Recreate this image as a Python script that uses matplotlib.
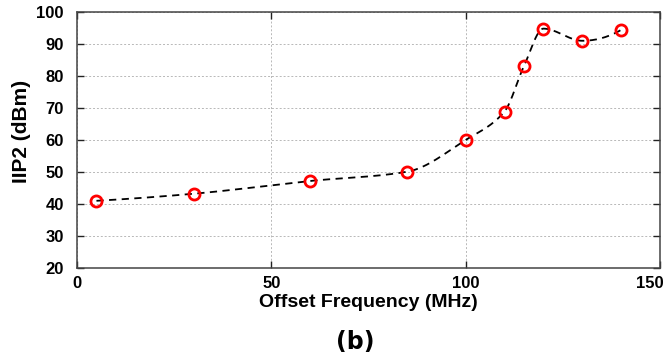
import numpy as np
import matplotlib
matplotlib.use("Agg")
import matplotlib.pyplot as plt
from matplotlib import font_manager
from matplotlib.transforms import ScaledTranslation

# Data
freq_mhz = [5, 30, 60, 85, 100, 110, 115, 120, 130, 140]
iip2_dbm = [41.0, 43.2, 47.2, 50.1, 60.0, 68.9, 83.1, 94.8, 91.0, 94.4]
x_ticks = [0, 50, 100, 150]
y_ticks = [20, 30, 40, 50, 60, 70, 80, 90, 100]

names = {f.name for f in font_manager.fontManager.ttflist}
fam = ["Liberation Sans Narrow", "Liberation Sans", "DejaVu Sans"]
fam = [f for f in fam if f in names] + ["DejaVu Sans"]
plt.rcParams['font.family'] = fam
plt.rcParams['font.weight'] = 'bold'


def pchip(x, y, xn):
    x = np.asarray(x, float); y = np.asarray(y, float)
    h = np.diff(x); d = np.diff(y) / h
    n = len(x); m = np.zeros(n)
    for k in range(1, n - 1):
        if d[k - 1] * d[k] > 0:
            w1 = 2 * h[k] + h[k - 1]; w2 = h[k] + 2 * h[k - 1]
            m[k] = (w1 + w2) / (w1 / d[k - 1] + w2 / d[k])
    def end(h0, h1, d0, d1):
        v = ((2 * h0 + h1) * d0 - h0 * d1) / (h0 + h1)
        if np.sign(v) != np.sign(d0):
            v = 0
        elif np.sign(d0) != np.sign(d1) and abs(v) > abs(3 * d0):
            v = 3 * d0
        return v
    m[0] = end(h[0], h[1], d[0], d[1])
    m[-1] = end(h[-1], h[-2], d[-1], d[-2])
    idx = np.clip(np.searchsorted(x, xn) - 1, 0, n - 2)
    t = (xn - x[idx]) / h[idx]
    h00 = 2 * t**3 - 3 * t**2 + 1; h10 = t**3 - 2 * t**2 + t
    h01 = -2 * t**3 + 3 * t**2; h11 = t**3 - t**2
    return h00 * y[idx] + h10 * h[idx] * m[idx] + h01 * y[idx + 1] + h11 * h[idx] * m[idx + 1]


fig = plt.figure(figsize=(6.68, 3.62), dpi=100)
ax = fig.add_axes([0.1153, 0.2597, 0.8727, 0.7072])

xs = np.linspace(freq_mhz[0], freq_mhz[-1], 600)
ax.plot(xs, pchip(freq_mhz, iip2_dbm, xs), color='black', linestyle=(0, (4, 3)), lw=1.3, zorder=3)
ax.plot(freq_mhz, iip2_dbm, linestyle='none', marker='o', ms=8, mfc='none',
        mec='#ff0000', mew=2, zorder=4)

ax.set_xlim(0, 150)
ax.set_ylim(20, 100)
ax.set_xticks(x_ticks)
ax.set_yticks(y_ticks)
ax.grid(True, color='#b8b8b8', linestyle=(0, (2, 2)), lw=0.7)
ax.tick_params(direction='in', top=True, right=True, length=5, width=1,
               labelsize=12, color='#222222')
ax.tick_params(axis='x', pad=6)
ax.tick_params(axis='y', pad=9.5)
for s in ax.spines.values():
    s.set_color('#444444'); s.set_linewidth(1.1)
for lab in ax.get_xticklabels() + ax.get_yticklabels():
    lab.set_fontweight('bold')
last = ax.get_xticklabels()[-1]
last.set_horizontalalignment('right')
last.set_transform(last.get_transform() + ScaledTranslation(4 / 100, 0, fig.dpi_scale_trans))

ax.set_xlabel('Offset Frequency (MHz)', fontsize=14, fontweight='bold', labelpad=2)
ax.xaxis.set_label_coords(0.51, -0.085, transform=None) if False else None
ax.set_ylabel('IIP2 (dBm)', fontsize=15, fontweight='bold', va='center')
ax.yaxis.set_label_coords(-0.096, 0.535)
fig.text(355 / 668, 0.035, '(b)', fontsize=17, fontweight='bold', ha='center',
         family=['DejaVu Sans'])

fig.savefig('out.png', dpi=100)
